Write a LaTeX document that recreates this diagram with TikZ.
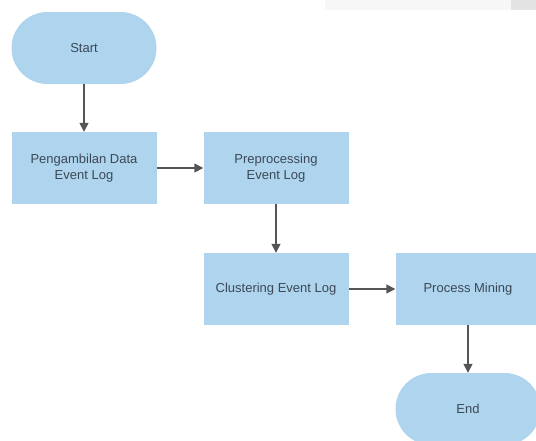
\documentclass[tikz,border=0pt]{standalone}
\usepackage{fontspec}
\setmainfont{Liberation Sans}
\usetikzlibrary{arrows.meta}
\definecolor{boxfill}{RGB}{174,212,238}
\definecolor{boxtext}{RGB}{60,72,86}
\definecolor{linkcol}{RGB}{85,85,85}
\begin{document}
\begin{tikzpicture}[x=1pt,y=-1pt,
  every node/.style={font=\fontsize{13}{16}\selectfont, text=boxtext, align=center},
  procbox/.style={fill=boxfill, draw=none, minimum width=145pt, minimum height=72pt, inner sep=0pt},
  terminal/.style={procbox, rounded corners=36pt},
  link/.style={draw=linkcol, line width=1.5pt, -{Triangle[length=9pt,width=9pt]}}]
\useasboundingbox (0,0) rectangle (536,440);
% faint strip along the top edge
\fill[black!3] (325,0) rectangle (536,10);
\fill[black!11] (511,0) rectangle (536,10);
% nodes
\node[terminal] (start) at (84,48) {Start};
\node[procbox] (ambil) at (84,168) {Pengambilan Data\\Event Log};
\node[procbox] (prep) at (276,168) {Preprocessing\\Event Log};
\node[procbox] (clus) at (276,289) {Clustering Event Log};
\node[procbox] (pm) at (468,289) {Process Mining};
\node[terminal] (end) at (468,409) {End};
% connectors
\draw[link] (start) -- (ambil);
\draw[link] (ambil) -- (prep);
\draw[link] (prep) -- (clus);
\draw[link] (clus) -- (pm);
\draw[link] (pm) -- (end);
\end{tikzpicture}
\end{document}
